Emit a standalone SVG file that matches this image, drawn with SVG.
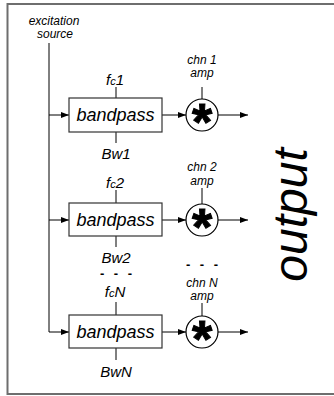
<svg xmlns="http://www.w3.org/2000/svg" width="334" height="396" viewBox="0 0 334 396">
<defs>
<marker id="ah" markerWidth="8" markerHeight="6" refX="8" refY="3" orient="auto" markerUnits="userSpaceOnUse">
<path d="M0,0 L8,3 L0,6 Z" fill="#000"/>
</marker>
<style>
text{font-family:"Liberation Sans",Arial,sans-serif;font-style:italic;fill:#000}
.lbl{font-size:12px;text-anchor:middle}
.bp{font-size:18px;text-anchor:middle}
.par{font-size:15px;text-anchor:middle}
.sub{font-size:11px}
.dots{font-size:13px;font-weight:bold;text-anchor:middle;font-style:normal;letter-spacing:3px}
.ast{font-size:52px;font-weight:bold;font-style:normal;text-anchor:middle;stroke:#000;stroke-width:1}
.box{fill:#fff;stroke:#333;stroke-width:1.2}
.mul{fill:#fff;stroke:#000;stroke-width:1.2}
.ln{stroke:#000;stroke-width:1;fill:none}
</style>
</defs>
<rect x="7.5" y="4" width="340" height="390" fill="#fff" stroke="#6e6e6e" stroke-width="2"/>

<g id="source">
<text class="lbl" x="54" y="25">excitation</text>
<text class="lbl" x="55" y="38">source</text>
</g>

<g id="connectors">
<path class="ln" d="M49,43 V332"/>
<path class="ln" d="M49,115 H69" marker-end="url(#ah)"/>
<path class="ln" d="M49,220 H69" marker-end="url(#ah)"/>
<path class="ln" d="M49,332 H69" marker-end="url(#ah)"/>
<path class="ln" d="M162,115 H186" marker-end="url(#ah)"/>
<path class="ln" d="M162,220 H186" marker-end="url(#ah)"/>
<path class="ln" d="M162,332 H186" marker-end="url(#ah)"/>
<path class="ln" d="M218,115 H248" marker-end="url(#ah)"/>
<path class="ln" d="M218,220 H248" marker-end="url(#ah)"/>
<path class="ln" d="M218,332 H248" marker-end="url(#ah)"/>
<path class="ln" d="M116,87 V98 M116,132 V143 M116,190 V203 M116,236 V247 M116,302 V315 M116,348 V360"/>
<path class="ln" d="M202,87 V99 M202,188 V204 M202,303 V316"/>
</g>

<g id="band1">
<rect class="box" x="69" y="98" width="93" height="34"/>
<text class="bp" x="115.5" y="121">bandpass</text>
<text class="par" x="115" y="85">f<tspan class="sub">c</tspan>1</text>
<text class="par" x="116" y="159">Bw1</text>
</g>
<g id="band2">
<rect class="box" x="69" y="203" width="93" height="33"/>
<text class="bp" x="115.5" y="226">bandpass</text>
<text class="par" x="115" y="188">f<tspan class="sub">c</tspan>2</text>
<text class="par" x="116" y="263">Bw2</text>
</g>
<g id="bandN">
<rect class="box" x="69" y="315" width="93" height="33"/>
<text class="bp" x="115.5" y="338">bandpass</text>
<text class="par" x="115" y="297">f<tspan class="sub">c</tspan>N</text>
<text class="par" x="116" y="377">BwN</text>
</g>
<text class="dots" x="117.5" y="278">- - -</text>

<g id="mul1">
<text class="lbl" x="202" y="64">chn 1</text>
<text class="lbl" x="202" y="77">amp</text>
<circle class="mul" cx="202" cy="115" r="16"/>
<text class="ast" x="202" y="140">*</text>
</g>
<g id="mul2">
<text class="lbl" x="202" y="171">chn 2</text>
<text class="lbl" x="202" y="185">amp</text>
<circle class="mul" cx="202" cy="220" r="16"/>
<text class="ast" x="202" y="245">*</text>
</g>
<text class="dots" x="203.5" y="269">- - -</text>
<g id="mulN">
<text class="lbl" x="202" y="287">chn N</text>
<text class="lbl" x="202" y="300">amp</text>
<circle class="mul" cx="202" cy="332" r="16"/>
<text class="ast" x="202" y="357">*</text>
</g>

<g id="output">
<text transform="translate(307,215) rotate(-90)" style="font-size:48px;text-anchor:middle">output</text>
</g>
</svg>
